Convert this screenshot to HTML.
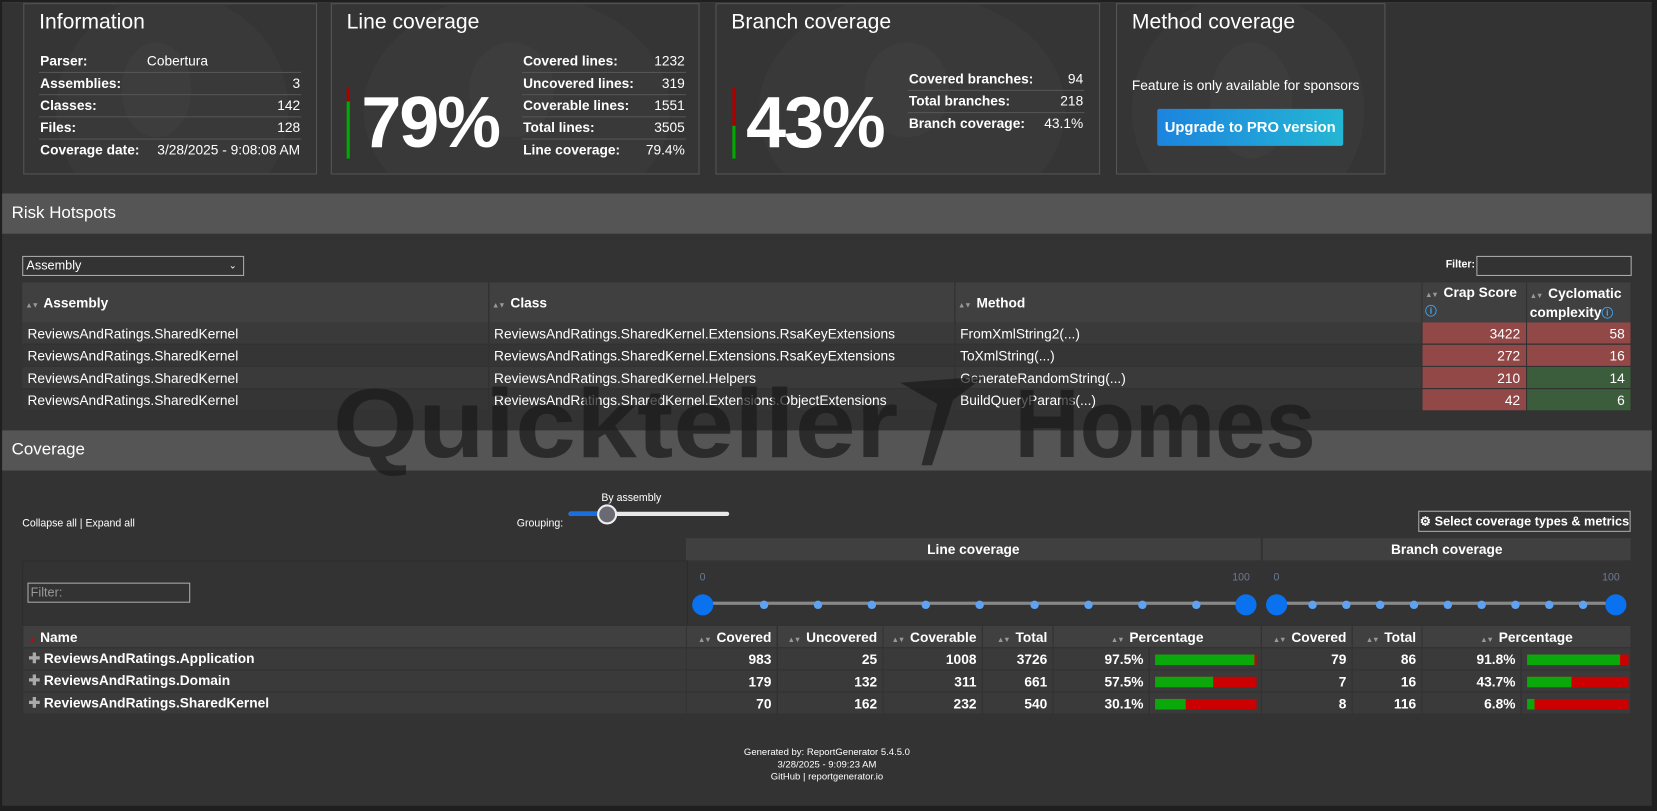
<!DOCTYPE html>
<html><head><meta charset="utf-8">
<style>
html,body{margin:0;padding:0;background:#1f1f1f;width:1657px;height:811px;overflow:hidden;font-family:"Liberation Sans",Arial,sans-serif;color:#fff}
#wrap{position:absolute;left:0;top:0;width:1568px;height:767px;transform:scale(1.0568,1.0574);transform-origin:0 0;background:#1f1f1f}
#page{position:absolute;left:2px;top:2px;width:1561px;height:760px;background:#333}
.a{position:absolute}
.card{position:absolute;top:1px;height:160px;border:1px solid #555;background:#353535;overflow:hidden}
.card .circ{position:absolute;border-radius:50%;background:#393939}
.card h2{position:absolute;left:14px;top:6px;margin:0;font-weight:normal;font-size:20px}
.kv{position:absolute;font-size:13px}
.kv div{position:relative;height:20px;line-height:20px;border-bottom:1px solid #555}
.kv div:last-child{border-bottom:none}
.kv b{position:absolute;left:1px}
.kv span{position:absolute;right:1px}
.big{position:absolute;font-size:68px;font-weight:bold;letter-spacing:-2px}
.sec{position:absolute;left:0;width:1561px;height:38px;background:#555;font-size:16px;line-height:38px;text-indent:9px}
table{border-collapse:collapse;table-layout:fixed;position:absolute}
td,th{padding:0 5px;overflow:hidden;white-space:nowrap;font-size:13px}
.rt th{background:#404040;text-align:left;font-weight:bold;border-right:1px solid #333;vertical-align:middle;padding:0 3px}
.rt td{height:20px;border-bottom:1px solid #333;border-right:1px solid #333}
.rt tr.o td{background:#3a3a3a}.rt tr.e td{background:#353535}
.red{background:#934848 !important;text-align:right}
.grn{background:#3c5d3c !important;text-align:right}
.s{color:#999;font-size:7px;margin-right:2px;letter-spacing:-1px}
.ct th{background:#404040;font-weight:bold;border:1px solid #333;height:20px}
.ct td{background:#3a3a3a;border:1px solid #333;height:20px;font-weight:bold;text-align:right}
.bar{display:inline-block;height:10px;width:96px;background:#c00;vertical-align:middle;position:relative}
.bar i{position:absolute;left:0;top:0;height:10px;background:#0aa80a}
.dot{position:absolute;width:8px;height:8px;border-radius:50%;background:#5ea2f2;top:566px}
.bd{position:absolute;width:20px;height:20px;border-radius:50%;background:#0a72ee;top:560px}
</style></head><body><div id="wrap"><div id="page">

<div class="a" style="left:0;top:0;width:1561px;height:1px;background:#3a3a3a"></div>

<div class="card" style="left:20px;width:276px">
 <div class="circ" style="left:30px;top:-10px;width:220px;height:220px"></div>
 <div class="circ" style="left:92px;top:36px;width:66px;height:90px;background:#3d3d3d"></div>
 <h2>Information</h2>
 <div class="kv" style="left:14px;top:44px;width:248px">
  <div><b>Parser:</b><span style="left:102px;right:auto">Cobertura</span></div>
  <div><b>Assemblies:</b><span>3</span></div>
  <div><b>Classes:</b><span>142</span></div>
  <div><b>Files:</b><span>128</span></div>
  <div><b>Coverage date:</b><span>3/28/2025 - 9:08:08 AM</span></div>
 </div>
</div>

<div class="card" style="left:311px;width:347px">
 <div class="circ" style="left:30px;top:-10px;width:290px;height:220px"></div>
 <div class="circ" style="left:130px;top:36px;width:80px;height:90px;background:#3d3d3d"></div>
 <h2>Line coverage</h2>
 <div class="a" style="left:14px;top:79px;width:3px;height:13px;background:#a00"></div>
 <div class="a" style="left:14px;top:92px;width:3px;height:54px;background:#0a0"></div>
 <div class="big" style="left:28px;top:73px">79%</div>
 <div class="kv" style="left:180px;top:44px;width:155px">
  <div><b>Covered lines:</b><span>1232</span></div>
  <div><b>Uncovered lines:</b><span>319</span></div>
  <div><b>Coverable lines:</b><span>1551</span></div>
  <div><b>Total lines:</b><span>3505</span></div>
  <div><b>Line coverage:</b><span>79.4%</span></div>
 </div>
</div>

<div class="card" style="left:675px;width:362px">
 <div class="circ" style="left:40px;top:-10px;width:290px;height:220px"></div>
 <div class="circ" style="left:140px;top:36px;width:80px;height:90px;background:#3d3d3d"></div>
 <h2>Branch coverage</h2>
 <div class="a" style="left:15px;top:79px;width:3px;height:36px;background:#a00"></div>
 <div class="a" style="left:15px;top:115px;width:3px;height:31px;background:#0a0"></div>
 <div class="big" style="left:28px;top:73px">43%</div>
 <div class="kv" style="left:181px;top:61px;width:167px">
  <div><b>Covered branches:</b><span>94</span></div>
  <div><b>Total branches:</b><span>218</span></div>
  <div><b>Branch coverage:</b><span>43.1%</span></div>
 </div>
</div>

<div class="card" style="left:1054px;width:253px">
 <div class="circ" style="left:14px;top:-10px;width:220px;height:220px"></div>
 <div class="circ" style="left:88px;top:36px;width:78px;height:110px;background:#3d3d3d"></div>
 <h2>Method coverage</h2>
 <div class="a" style="left:14px;top:69px;font-size:13px">Feature is only available for sponsors</div>
 <div class="a" style="left:38px;top:99px;width:176px;height:35px;border-radius:2px;background:linear-gradient(90deg,#1c84de,#24b6d4);font-size:14px;font-weight:bold;line-height:35px;text-align:center">Upgrade to PRO version</div>
</div>

<div class="sec" style="top:181px">Risk Hotspots</div>
<div class="a" style="left:19px;top:240px;width:208px;height:17px;border:1px solid #aaa;font-size:12px;line-height:17px;text-indent:3px">Assembly<span style="position:absolute;right:6px;font-size:9px">&#8964;</span></div>
<div class="a" style="left:1366px;top:243px;font-size:10px;font-weight:bold">Filter:</div>
<div class="a" style="left:1395px;top:240px;width:145px;height:17px;border:1px solid #aaa"></div>

<table class="rt" style="left:19px;top:265px;width:1522px">
 <colgroup><col style="width:441px"><col style="width:441px"><col style="width:442px"><col style="width:99px"><col style="width:99px"></colgroup>
 <tr style="height:37px"><th><span class="s">&#9650;&#9660;</span> Assembly</th><th><span class="s">&#9650;&#9660;</span> Class</th><th><span class="s">&#9650;&#9660;</span> Method</th><th style="line-height:14px;vertical-align:top;padding-top:3px"><span class="s">&#9650;&#9660;</span> Crap Score<br><span style="color:#3ba3f0;font-size:11px">&#9432;</span></th><th style="line-height:15px;vertical-align:top;padding-top:3px"><span class="s">&#9650;&#9660;</span> Cyclomatic<br>complexity<span style="color:#3ba3f0;font-size:11px">&#9432;</span></th></tr>
 <tr class="o"><td>ReviewsAndRatings.SharedKernel</td><td>ReviewsAndRatings.SharedKernel.Extensions.RsaKeyExtensions</td><td>FromXmlString2(...)</td><td class="red">3422</td><td class="red">58</td></tr>
 <tr class="e"><td>ReviewsAndRatings.SharedKernel</td><td>ReviewsAndRatings.SharedKernel.Extensions.RsaKeyExtensions</td><td>ToXmlString(...)</td><td class="red">272</td><td class="red">16</td></tr>
 <tr class="o"><td>ReviewsAndRatings.SharedKernel</td><td>ReviewsAndRatings.SharedKernel.Helpers</td><td>GenerateRandomString(...)</td><td class="red">210</td><td class="grn">14</td></tr>
 <tr class="e"><td>ReviewsAndRatings.SharedKernel</td><td>ReviewsAndRatings.SharedKernel.Extensions.ObjectExtensions</td><td>BuildQueryParams(...)</td><td class="red">42</td><td class="grn">6</td></tr>
</table>

<div class="sec" style="top:405px">Coverage</div>

<svg class="a" style="left:0;top:340px" width="1561" height="110">
 <g fill="#1a1a1a" fill-opacity="0.7" font-family="Liberation Sans,sans-serif" font-weight="bold" font-size="92">
  <text x="313" y="90" textLength="535" lengthAdjust="spacingAndGlyphs">Quickteller</text>
  <text x="958" y="90" textLength="285" lengthAdjust="spacingAndGlyphs">Homes</text>
  <path d="M850 20 L930 14 L900 36 L880 98 L870 98 L885 40 Z"/>
 </g>
</svg>

<div class="a" style="left:19px;top:488px;font-size:10px">Collapse all | Expand all</div>
<div class="a" style="left:487px;top:488px;font-size:10px">Grouping:</div>
<div class="a" style="left:567px;top:464px;font-size:10px">By assembly</div>
<div class="a" style="left:536px;top:482px;width:152px;height:4px;border-radius:2px;background:#e8e8e8"></div>
<div class="a" style="left:536px;top:482px;width:36px;height:4px;border-radius:2px;background:#1a6fe0"></div>
<div class="a" style="left:563px;top:475px;width:15px;height:15px;border-radius:50%;background:#6a6a72;border:2px solid #eee"></div>

<div class="a" style="left:1340px;top:481px;width:199px;height:18px;border:1px solid #aaa;font-size:12px;font-weight:bold;line-height:18px;text-align:center">&#9881; Select coverage types &amp; metrics</div>

<div class="a" style="left:19px;top:528px;width:628px;height:61px;background:#333;border:1px solid #2c2c2c"></div>
<div class="a" style="left:647px;top:507px;width:544px;height:21px;background:#404040;font-size:13px;font-weight:bold;text-align:center;line-height:21px">Line coverage</div>
<div class="a" style="left:1193px;top:507px;width:348px;height:21px;background:#404040;font-size:13px;font-weight:bold;text-align:center;line-height:21px">Branch coverage</div>
<div class="a" style="left:24px;top:549px;width:152px;height:17px;border:1px solid #aaa;font-size:12px;line-height:17px;color:#999;text-indent:2px">Filter:</div>

<div class="a" style="left:660px;top:539px;font-size:10px;color:#6a7a95">0</div>
<div class="a" style="left:1164px;top:539px;font-size:10px;color:#6a7a95">100</div>
<div class="a" style="left:663px;top:567px;width:514px;height:3px;background:#888"></div>
<div class="bd" style="left:653px"></div><div class="bd" style="left:1167px"></div>
<div class="dot" style="left:717px"></div><div class="dot" style="left:768px"></div><div class="dot" style="left:819px"></div><div class="dot" style="left:870px"></div><div class="dot" style="left:921px"></div><div class="dot" style="left:973px"></div><div class="dot" style="left:1024px"></div><div class="dot" style="left:1075px"></div><div class="dot" style="left:1126px"></div>

<div class="a" style="left:1203px;top:539px;font-size:10px;color:#6a7a95">0</div>
<div class="a" style="left:1514px;top:539px;font-size:10px;color:#6a7a95">100</div>
<div class="a" style="left:1206px;top:567px;width:321px;height:3px;background:#888"></div>
<div class="bd" style="left:1196px"></div><div class="bd" style="left:1517px"></div>
<div class="dot" style="left:1236px"></div><div class="dot" style="left:1268px"></div><div class="dot" style="left:1300px"></div><div class="dot" style="left:1332px"></div><div class="dot" style="left:1364px"></div><div class="dot" style="left:1396px"></div><div class="dot" style="left:1428px"></div><div class="dot" style="left:1460px"></div><div class="dot" style="left:1492px"></div>

<table class="ct" style="left:19px;top:589px;width:1522px">
 <colgroup><col style="width:628px"><col style="width:86px"><col style="width:100px"><col style="width:94px"><col style="width:67px"><col style="width:91px"><col style="width:106px"><col style="width:86px"><col style="width:66px"><col style="width:94px"><col style="width:104px"></colgroup>
 <tr><th style="text-align:left"><span style="color:#c00;font-size:7px;margin-right:4px">&#9650;</span>Name</th><th style="text-align:right"><span class="s">&#9650;&#9660;</span> Covered</th><th style="text-align:right"><span class="s">&#9650;&#9660;</span> Uncovered</th><th style="text-align:right"><span class="s">&#9650;&#9660;</span> Coverable</th><th style="text-align:right"><span class="s">&#9650;&#9660;</span> Total</th><th colspan="2"><span class="s">&#9650;&#9660;</span> Percentage</th><th style="text-align:right"><span class="s">&#9650;&#9660;</span> Covered</th><th style="text-align:right"><span class="s">&#9650;&#9660;</span> Total</th><th colspan="2"><span class="s">&#9650;&#9660;</span> Percentage</th></tr>
 <tr><td style="text-align:left"><span style="color:#aaa">&#10010;</span> ReviewsAndRatings.Application</td><td>983</td><td>25</td><td>1008</td><td>3726</td><td>97.5%</td><td style="text-align:left"><span class="bar"><i style="width:94px"></i></span></td><td>79</td><td>86</td><td>91.8%</td><td style="text-align:left"><span class="bar"><i style="width:88px"></i></span></td></tr>
 <tr><td style="text-align:left"><span style="color:#aaa">&#10010;</span> ReviewsAndRatings.Domain</td><td>179</td><td>132</td><td>311</td><td>661</td><td>57.5%</td><td style="text-align:left"><span class="bar"><i style="width:55px"></i></span></td><td>7</td><td>16</td><td>43.7%</td><td style="text-align:left"><span class="bar"><i style="width:42px"></i></span></td></tr>
 <tr><td style="text-align:left"><span style="color:#aaa">&#10010;</span> ReviewsAndRatings.SharedKernel</td><td>70</td><td>162</td><td>232</td><td>540</td><td>30.1%</td><td style="text-align:left"><span class="bar"><i style="width:29px"></i></span></td><td>8</td><td>116</td><td>6.8%</td><td style="text-align:left"><span class="bar"><i style="width:7px"></i></span></td></tr>
</table>

<div class="a" style="left:0;top:704px;width:1561px;text-align:center;font-size:9px;line-height:11.5px">Generated by: ReportGenerator 5.4.5.0<br>3/28/2025 - 9:09:23 AM<br>GitHub | reportgenerator.io</div>

</div></div></body></html>
